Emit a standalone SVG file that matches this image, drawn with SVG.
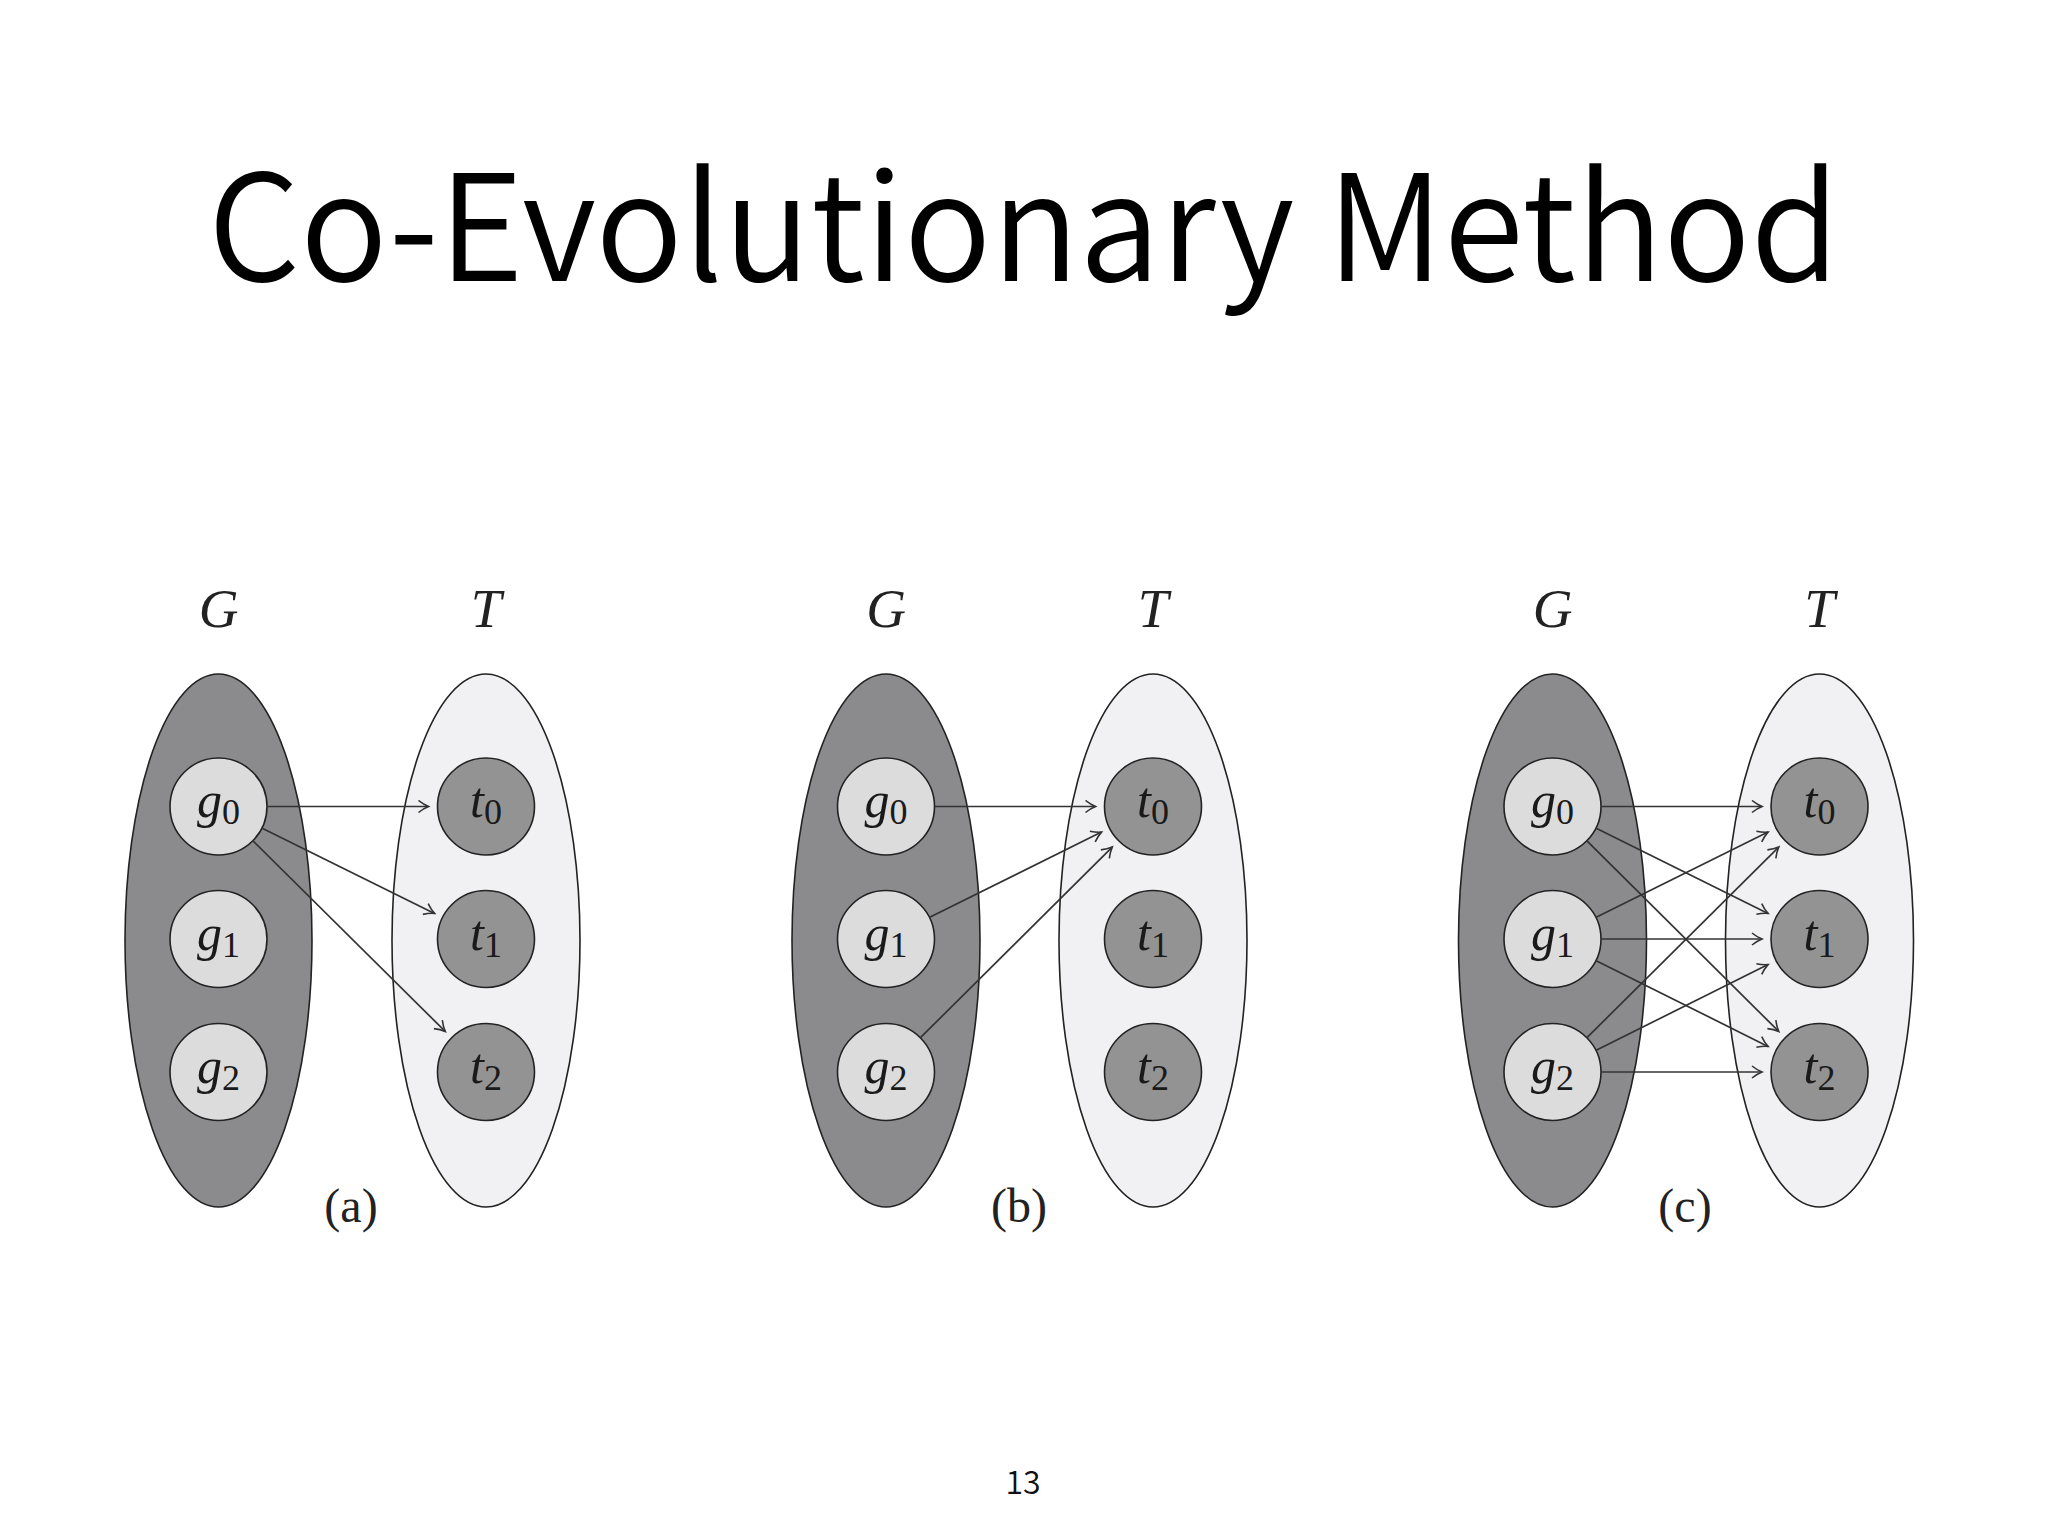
<svg xmlns="http://www.w3.org/2000/svg" width="2048" height="1536" viewBox="0 0 2048 1536">
<style>
.title{font-family:"Noto Sans CJK KR","Noto Sans",sans-serif;font-weight:350;font-size:148px;fill:#000}
.pnum{font-family:"Noto Sans CJK KR","Noto Sans",sans-serif;font-weight:350;font-size:32px;fill:#111}
.set{font-family:"Liberation Serif",serif;font-style:italic;font-size:55px;fill:#222}
.cap{font-family:"Liberation Serif",serif;font-size:48px;fill:#222}
.lbl{font-family:"Liberation Serif",serif;font-size:50px;fill:#1a1a1a}
.lbl .v{font-style:italic}
.lbl .s{font-size:36px}
.gset{fill:#8b8a8d;stroke:#222;stroke-width:1.6}
.tset{fill:#f1f1f3;stroke:#222;stroke-width:1.6}
.gn{fill:#dcdcdc;stroke:#222;stroke-width:1.6}
.tn{fill:#939393;stroke:#222;stroke-width:1.6}
.arr{stroke:#333;stroke-width:1.7;fill:none;marker-end:url(#ah)}
</style>
<defs>
<marker id="ah" markerUnits="userSpaceOnUse" markerWidth="14" markerHeight="14" refX="11" refY="7" orient="auto">
<path d="M1,1 Q6,5 11,7 Q6,9 1,13" fill="none" stroke="#333" stroke-width="1.6"/>
</marker>
</defs>
<rect width="2048" height="1536" fill="#fff"/>
<text class="title" x="1024" y="281" text-anchor="middle" textLength="1632" lengthAdjust="spacingAndGlyphs">Co-Evolutionary Method</text>
<text class="pnum" x="1023" y="1494" text-anchor="middle">13</text>

<!-- Panel (a) -->
<g id="panel-a">
<g id="a-G"><ellipse class="gset" cx="218.5" cy="940.5" rx="93.5" ry="266.5"/><text class="set" x="218.5" y="627" text-anchor="middle">G</text></g>
<g id="a-T"><ellipse class="tset" cx="486" cy="940.5" rx="94" ry="266.5"/><text class="set" x="486" y="627" text-anchor="middle">T</text></g>
<g id="a-g0"><circle class="gn" cx="218.5" cy="806.5" r="48.5"/><text class="lbl" x="218.5" y="817" text-anchor="middle"><tspan class="v">g</tspan><tspan class="s" dy="7">0</tspan></text></g>
<g id="a-g1"><circle class="gn" cx="218.5" cy="939" r="48.5"/><text class="lbl" x="218.5" y="950" text-anchor="middle"><tspan class="v">g</tspan><tspan class="s" dy="7">1</tspan></text></g>
<g id="a-g2"><circle class="gn" cx="218.5" cy="1072" r="48.5"/><text class="lbl" x="218.5" y="1083" text-anchor="middle"><tspan class="v">g</tspan><tspan class="s" dy="7">2</tspan></text></g>
<g id="a-t0"><circle class="tn" cx="486" cy="806.5" r="48.5"/><text class="lbl" x="486" y="817" text-anchor="middle"><tspan class="v">t</tspan><tspan class="s" dy="7">0</tspan></text></g>
<g id="a-t1"><circle class="tn" cx="486" cy="939" r="48.5"/><text class="lbl" x="486" y="950" text-anchor="middle"><tspan class="v">t</tspan><tspan class="s" dy="7">1</tspan></text></g>
<g id="a-t2"><circle class="tn" cx="486" cy="1072" r="48.5"/><text class="lbl" x="486" y="1083" text-anchor="middle"><tspan class="v">t</tspan><tspan class="s" dy="7">2</tspan></text></g>
<text class="cap" x="351" y="1222" text-anchor="middle">(a)</text>
</g>

<!-- Panel (b) -->
<g id="panel-b">
<g id="b-G"><ellipse class="gset" cx="886" cy="940.5" rx="94" ry="266.5"/><text class="set" x="886" y="627" text-anchor="middle">G</text></g>
<g id="b-T"><ellipse class="tset" cx="1153" cy="940.5" rx="94" ry="266.5"/><text class="set" x="1153" y="627" text-anchor="middle">T</text></g>
<g id="b-g0"><circle class="gn" cx="886" cy="806.5" r="48.5"/><text class="lbl" x="886" y="817" text-anchor="middle"><tspan class="v">g</tspan><tspan class="s" dy="7">0</tspan></text></g>
<g id="b-g1"><circle class="gn" cx="886" cy="939" r="48.5"/><text class="lbl" x="886" y="950" text-anchor="middle"><tspan class="v">g</tspan><tspan class="s" dy="7">1</tspan></text></g>
<g id="b-g2"><circle class="gn" cx="886" cy="1072" r="48.5"/><text class="lbl" x="886" y="1083" text-anchor="middle"><tspan class="v">g</tspan><tspan class="s" dy="7">2</tspan></text></g>
<g id="b-t0"><circle class="tn" cx="1153" cy="806.5" r="48.5"/><text class="lbl" x="1153" y="817" text-anchor="middle"><tspan class="v">t</tspan><tspan class="s" dy="7">0</tspan></text></g>
<g id="b-t1"><circle class="tn" cx="1153" cy="939" r="48.5"/><text class="lbl" x="1153" y="950" text-anchor="middle"><tspan class="v">t</tspan><tspan class="s" dy="7">1</tspan></text></g>
<g id="b-t2"><circle class="tn" cx="1153" cy="1072" r="48.5"/><text class="lbl" x="1153" y="1083" text-anchor="middle"><tspan class="v">t</tspan><tspan class="s" dy="7">2</tspan></text></g>
<text class="cap" x="1019" y="1222" text-anchor="middle">(b)</text>
</g>

<!-- Panel (c) -->
<g id="panel-c">
<g id="c-G"><ellipse class="gset" cx="1552.5" cy="940.5" rx="94" ry="266.5"/><text class="set" x="1552.5" y="627" text-anchor="middle">G</text></g>
<g id="c-T"><ellipse class="tset" cx="1819.5" cy="940.5" rx="94" ry="266.5"/><text class="set" x="1819.5" y="627" text-anchor="middle">T</text></g>
<g id="c-g0"><circle class="gn" cx="1552.5" cy="806.5" r="48.5"/><text class="lbl" x="1552.5" y="817" text-anchor="middle"><tspan class="v">g</tspan><tspan class="s" dy="7">0</tspan></text></g>
<g id="c-g1"><circle class="gn" cx="1552.5" cy="939" r="48.5"/><text class="lbl" x="1552.5" y="950" text-anchor="middle"><tspan class="v">g</tspan><tspan class="s" dy="7">1</tspan></text></g>
<g id="c-g2"><circle class="gn" cx="1552.5" cy="1072" r="48.5"/><text class="lbl" x="1552.5" y="1083" text-anchor="middle"><tspan class="v">g</tspan><tspan class="s" dy="7">2</tspan></text></g>
<g id="c-t0"><circle class="tn" cx="1819.5" cy="806.5" r="48.5"/><text class="lbl" x="1819.5" y="817" text-anchor="middle"><tspan class="v">t</tspan><tspan class="s" dy="7">0</tspan></text></g>
<g id="c-t1"><circle class="tn" cx="1819.5" cy="939" r="48.5"/><text class="lbl" x="1819.5" y="950" text-anchor="middle"><tspan class="v">t</tspan><tspan class="s" dy="7">1</tspan></text></g>
<g id="c-t2"><circle class="tn" cx="1819.5" cy="1072" r="48.5"/><text class="lbl" x="1819.5" y="1083" text-anchor="middle"><tspan class="v">t</tspan><tspan class="s" dy="7">2</tspan></text></g>
<text class="cap" x="1685" y="1222" text-anchor="middle">(c)</text>
</g>

<g id="connectors">
<line class="arr" x1="267" y1="806.5" x2="428.5" y2="806.5"/>
<line class="arr" x1="261.7" y1="828" x2="434.5" y2="913.4"/>
<line class="arr" x1="252.7" y1="840.6" x2="445.2" y2="1031.4"/>

<line class="arr" x1="934.5" y1="806.5" x2="1095.5" y2="806.5"/>
<line class="arr" x1="929.2" y1="917.5" x2="1101.5" y2="832.1"/>
<line class="arr" x1="920.2" y1="1037.9" x2="1112.2" y2="847.1"/>

<line class="arr" x1="1601" y1="806.5" x2="1762" y2="806.5"/>
<line class="arr" x1="1595.7" y1="828" x2="1768" y2="913.4"/>
<line class="arr" x1="1586.7" y1="840.6" x2="1778.7" y2="1031.4"/>
<line class="arr" x1="1595.7" y1="917.5" x2="1768" y2="832.1"/>
<line class="arr" x1="1601" y1="939" x2="1762" y2="939"/>
<line class="arr" x1="1595.7" y1="960.5" x2="1768" y2="1046.4"/>
<line class="arr" x1="1586.7" y1="1037.9" x2="1778.7" y2="847.1"/>
<line class="arr" x1="1595.7" y1="1050.5" x2="1768" y2="964.6"/>
<line class="arr" x1="1601" y1="1072" x2="1762" y2="1072"/>
</g>
</svg>
